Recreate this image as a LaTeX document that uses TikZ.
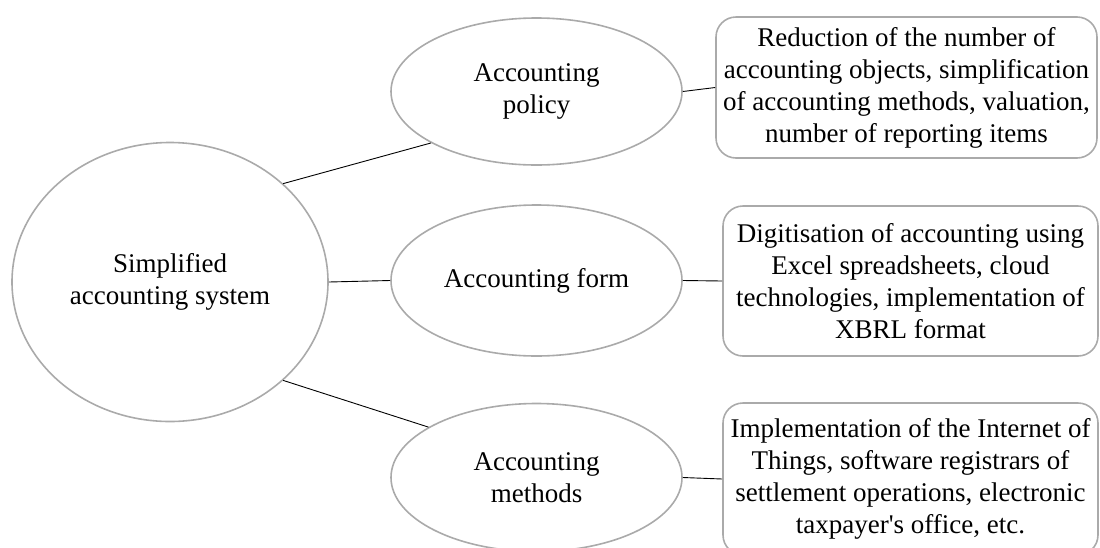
\documentclass[tikz,border=0pt]{standalone}
\usepackage{fontspec}
\setmainfont{Liberation Serif}
\usepackage{xcolor}
\usepackage{tikz}
\usetikzlibrary{shapes.geometric}

\definecolor{rimgray}{RGB}{170,170,170}

\begin{document}
\begin{tikzpicture}[x=1pt, y=-1pt,
    % Styles
    topic/.style={
        ellipse,
        draw=rimgray,
        line width=1.6pt,
        inner sep=0pt,
        align=center,
        font=\fontsize{27}{32}\selectfont
    },
    detail/.style={
        rectangle,
        rounded corners=20pt,
        draw=rimgray,
        line width=1.6pt,
        inner sep=0pt,
        align=center,
        font=\fontsize{27}{32}\selectfont
    },
    link/.style={
        line width=0.9pt,
        color=black
    }
]
\useasboundingbox (0,0) rectangle (1100,547);

% Main ellipse
\node[topic, minimum width=316pt, minimum height=279pt] (system) at (170,282)
    {Simplified\\accounting system};

% Three topics
\node[topic, minimum width=291pt, minimum height=147pt] (policy) at (536.5,91.5)
    {Accounting\\policy};
\node[topic, minimum width=291pt, minimum height=151pt] (form) at (536.5,280.5)
    {Accounting form};
\node[topic, minimum width=291pt, minimum height=148pt] (methods) at (536.5,477.5)
    {Accounting\\methods};

% Detail boxes
\node[detail, minimum width=381pt, minimum height=141pt] (policytxt) at (906.5,87.5)
    {Reduction of the number of\\
     accounting objects, simplification\\
     of accounting methods, valuation,\\
     number of reporting items};
\node[detail, minimum width=375pt, minimum height=150pt] (formtxt) at (910.5,281)
    {Digitisation of accounting using\\
     Excel spreadsheets, cloud\\
     technologies, implementation of\\
     XBRL format};
\node[detail, minimum width=375pt, minimum height=152pt] (methodstxt) at (910.5,479)
    {Implementation of the Internet of\\
     Things, software registrars of\\
     settlement operations, electronic\\
     taxpayer\textquotesingle s office, etc.};

% Connectors
\draw[link] (system.41.5) -- (policy.206.9);
\draw[link] (system.east) -- (form.west);
\draw[link] (system.-41.2) -- (methods.155);
\draw[link] (policy.east) -- (policytxt.west);
\draw[link] (form.east) -- (formtxt.west);
\draw[link] (methods.east) -- (methodstxt.west);

\end{tikzpicture}
\end{document}
